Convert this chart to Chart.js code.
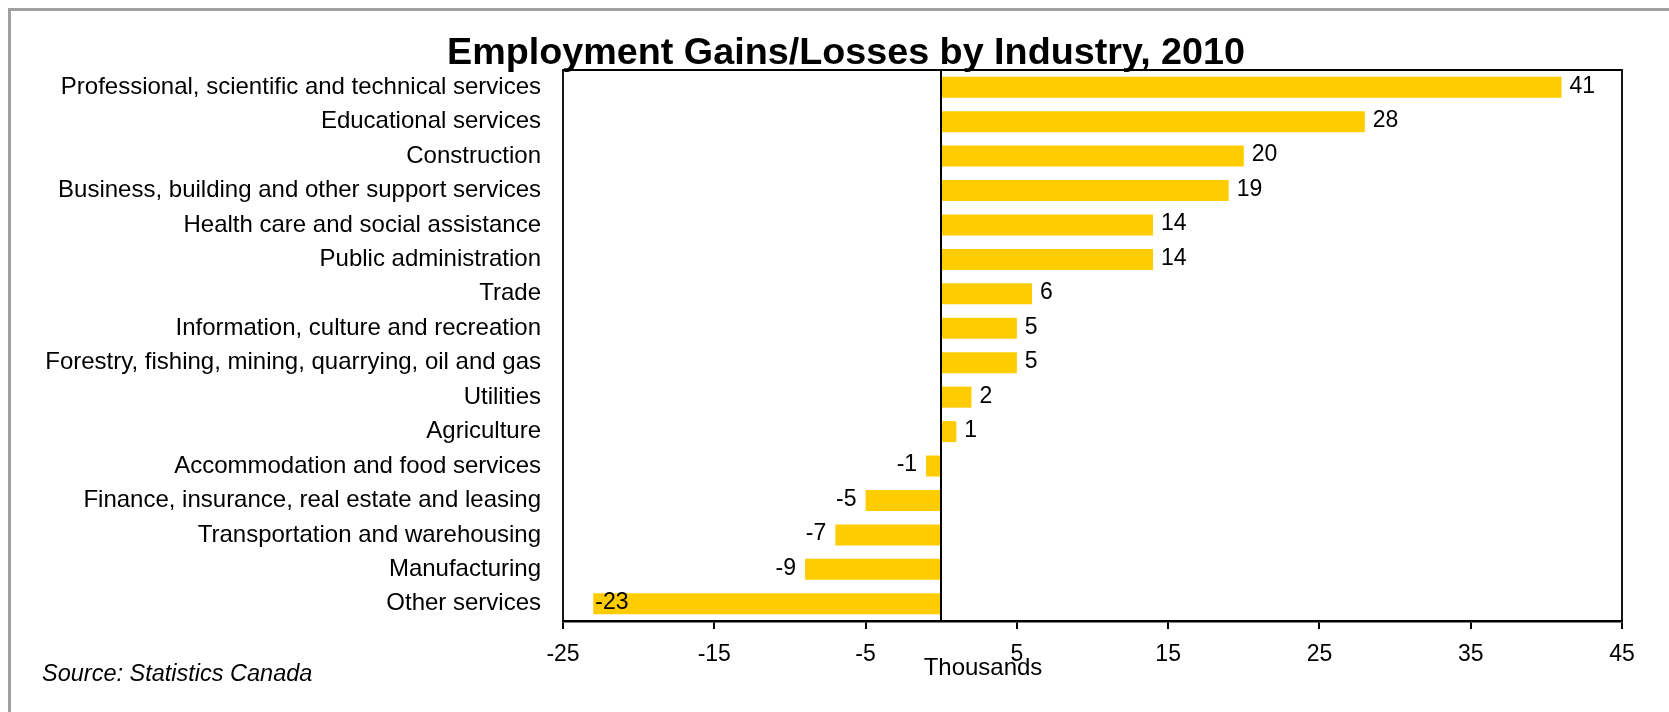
<!DOCTYPE html>
<html>
<head>
<meta charset="utf-8">
<title>Employment Gains/Losses by Industry, 2010</title>
<script src="https://cdn.jsdelivr.net/npm/chart.js@4.4.1/dist/chart.umd.min.js"></script>
<style>
    html, body { margin: 0; padding: 0; background: #fff; }
    #wrap { width: 1669px; height: 712px; }
</style>
</head>
<body>
<div id="wrap"><canvas id="industryChart" width="1669" height="712"></canvas></div>
<script>
const industries = [
    "Professional, scientific and technical services",
    "Educational services",
    "Construction",
    "Business, building and other support services",
    "Health care and social assistance",
    "Public administration",
    "Trade",
    "Information, culture and recreation",
    "Forestry, fishing, mining, quarrying, oil and gas",
    "Utilities",
    "Agriculture",
    "Accommodation and food services",
    "Finance, insurance, real estate and leasing",
    "Transportation and warehousing",
    "Manufacturing",
    "Other services"
];
const change = [41, 28, 20, 19, 14, 14, 6, 5, 5, 2, 1, -1, -5, -7, -9, -23];
const axisMin = -25;
const axisMax = 45;
const axisStep = 10;

const titleText = "Employment Gains/Losses by Industry, 2010";
const unitText = "Thousands";
const sourceText = "Source: Statistics Canada";

const FONT = '"Liberation Sans", Arial, sans-serif';
const BAR_COLOR = "#ffcc00";

// frame, zero line, value labels, title and footnotes
const decorations = {
    id: "decorations",
    afterDatasetsDraw(chart) {
        const ctx = chart.ctx;
        const area = chart.chartArea;
        const x = chart.scales.x;

        ctx.save();
        ctx.strokeStyle = "#000";

        // thin frame round the plot
        ctx.lineWidth = 1.8;
        ctx.beginPath();
        ctx.moveTo(area.left, area.bottom);
        ctx.lineTo(area.left, area.top);
        ctx.lineTo(area.right, area.top);
        ctx.lineTo(area.right, area.bottom);
        ctx.stroke();

        // zero line
        const zx = Math.round(x.getPixelForValue(0));
        ctx.lineWidth = 2;
        ctx.beginPath();
        ctx.moveTo(zx, area.top);
        ctx.lineTo(zx, area.bottom);
        ctx.stroke();

        // value labels
        ctx.fillStyle = "#000";
        ctx.font = "23px " + FONT;
        ctx.textBaseline = "middle";
        const meta = chart.getDatasetMeta(0);
        meta.data.forEach((bar, i) => {
            const v = change[i];
            const label = String(v);
            const w = ctx.measureText(label).width;
            if (v >= 0) {
                ctx.textAlign = "left";
                ctx.fillText(label, bar.x + 8, bar.y - 1);
            } else if (bar.x - 9 - w < area.left + 4) {
                // no room outside, put it inside the bar
                ctx.textAlign = "left";
                ctx.fillText(label, bar.x + 2, bar.y - 1);
            } else {
                ctx.textAlign = "right";
                ctx.fillText(label, bar.x - 9, bar.y - 1);
            }
        });
        ctx.restore();
    },
    afterDraw(chart) {
        const ctx = chart.ctx;
        ctx.save();

        // outer border
        ctx.strokeStyle = "#a0a0a0";
        ctx.lineWidth = 3;
        ctx.beginPath();
        ctx.moveTo(9.5, chart.height + 5);
        ctx.lineTo(9.5, 9.5);
        ctx.lineTo(chart.width + 5, 9.5);
        ctx.stroke();

        ctx.fillStyle = "#000";

        // title, squeezed to a fixed width
        ctx.font = "bold 36px " + FONT;
        ctx.textAlign = "left";
        ctx.textBaseline = "alphabetic";
        const tw = ctx.measureText(titleText).width;
        const target = 798;
        ctx.save();
        ctx.translate(846 - target / 2, 64);
        ctx.scale(target / tw, 1);
        ctx.fillText(titleText, 0, 0);
        ctx.restore();

        ctx.font = "24px " + FONT;
        ctx.textAlign = "center";
        ctx.fillText(unitText, 983, 675);

        ctx.font = "italic 23.5px " + FONT;
        ctx.textAlign = "left";
        ctx.fillText(sourceText, 42, 681);

        ctx.restore();
    }
};

function drawChart() {
    const ctx = document.getElementById("industryChart").getContext("2d");
    new Chart(ctx, {
        type: "bar",
        data: {
            labels: industries,
            datasets: [{
                data: change,
                backgroundColor: BAR_COLOR,
                borderWidth: 0,
                barPercentage: 0.61,
                categoryPercentage: 1
            }]
        },
        options: {
            indexAxis: "y",
            responsive: false,
            animation: false,
            devicePixelRatio: 1,
            layout: { padding: { left: 0, top: 70, right: 47, bottom: 0 } },
            plugins: {
                legend: { display: false },
                title: { display: false },
                tooltip: { enabled: false }
            },
            scales: {
                x: {
                    type: "linear",
                    min: axisMin,
                    max: axisMax,
                    ticks: {
                        stepSize: axisStep,
                        color: "#000",
                        font: { family: FONT, size: 23 },
                        padding: 12,
                        maxRotation: 0
                    },
                    grid: {
                        drawOnChartArea: false,
                        drawTicks: true,
                        tickLength: 8,
                        color: "#000",
                        lineWidth: 2
                    },
                    border: { display: true, color: "#000", width: 2.6 },
                    afterFit(scale) { scale.height = 91; }
                },
                y: {
                    ticks: {
                        color: "#000",
                        font: { family: FONT, size: 24 },
                        padding: 22,
                        autoSkip: false
                    },
                    grid: { display: false, drawTicks: false },
                    border: { display: false },
                    afterFit(scale) { scale.width = 563; }
                }
            }
        },
        plugins: [decorations]
    });
}

document.addEventListener("DOMContentLoaded", drawChart);
</script>
</body>
</html>
